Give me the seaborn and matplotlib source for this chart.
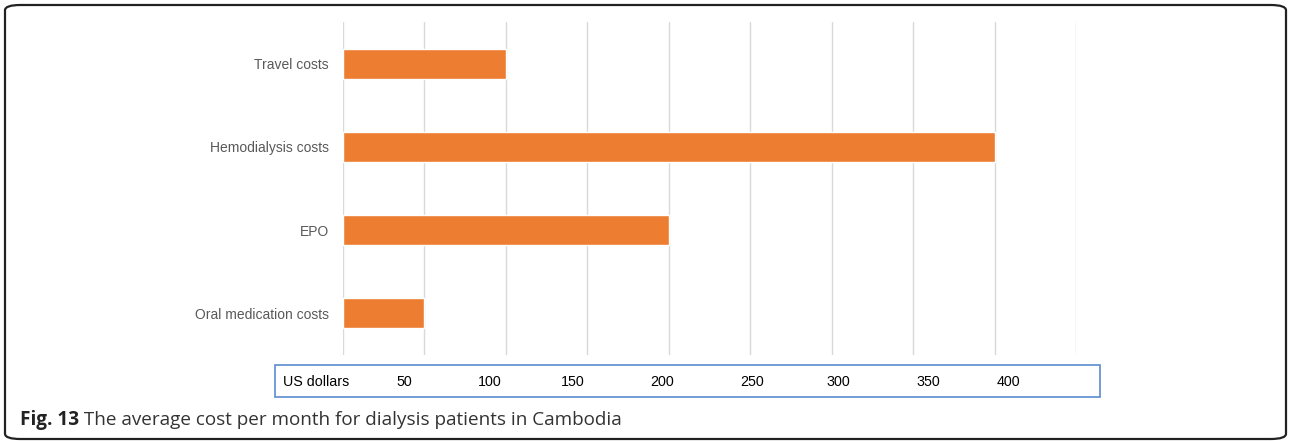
import matplotlib
matplotlib.use("Agg")
import matplotlib.pyplot as plt
import seaborn as sns
import pandas as pd
from matplotlib.patches import Rectangle, FancyBboxPatch

# Data
categories = ["Travel costs", "Hemodialysis costs", "EPO", "Oral medication costs"]
costs = [100, 400, 200, 50]
table_labels = ["50", "100", "150", "200", "250", "300", "350", "400"]
caption_bold = "Fig. 13"
caption_text = " The average cost per month for dialysis patients in Cambodia"

df = pd.DataFrame({"category": categories, "cost": costs})

W, H = 1290, 441
sns.set_theme(style="white")
plt.rcParams['font.family'] = ['Liberation Sans', 'DejaVu Sans']

fig = plt.figure(figsize=(W / 100, H / 100), dpi=100)
ax = fig.add_axes([342.7 / W, 1 - 355 / H, (1076.5 - 342.7) / W, (355 - 22) / H])

sns.barplot(data=df, x="cost", y="category", orient="h", color="#ED7D31",
            width=0.36, saturation=1, ax=ax)
ax.set_xlim(0, 450)
ax.set_xticks(range(0, 451, 50))
ax.xaxis.grid(True, color="#D9D9D9", linewidth=1)
ax.set_axisbelow(True)
ax.set_xticklabels([])
ax.tick_params(axis="x", length=0)
ax.tick_params(axis="y", length=0, pad=10, labelsize=10, labelcolor="#595959")
ax.set_xlabel("")
ax.set_ylabel("")
for s in ax.spines.values():
    s.set_visible(False)


def fx(px):
    return px / W


def fy(py):
    return 1 - py / H


# table box under the chart
fig.patches.append(Rectangle((fx(275), fy(397)), fx(1100) - fx(275), fy(365) - fy(397),
                             transform=fig.transFigure, fill=False,
                             edgecolor="#5B8BD0", linewidth=1.2))
fig.text(fx(283), fy(382), "US dollars", ha="left", va="center", fontsize=10.3, color="black")
label_x = [404, 490, 573, 662, 752, 838, 928, 1008]
for xp, lab in zip(label_x, table_labels):
    fig.text(fx(xp), fy(382), lab, ha="center", va="center", fontsize=10.3, color="black")

# rounded frame
fig.patches.append(FancyBboxPatch((fx(5), fy(439)), fx(1286) - fx(5), fy(5) - fy(439),
                                  boxstyle="round,pad=0,rounding_size=0.012",
                                  transform=fig.transFigure, fill=False,
                                  edgecolor="#222222", linewidth=1.6))

# caption
t1 = fig.text(fx(20), fy(420), caption_bold, ha="left", va="center", fontsize=13.6,
              fontweight="bold", family=["Open Sans", "DejaVu Sans"], color="#222222")
fig.canvas.draw()
bb = t1.get_window_extent()
fig.text(bb.x1 / W, fy(420), caption_text, ha="left", va="center", fontsize=13.6,
         family=["Open Sans", "DejaVu Sans"], color="#333333")

fig.savefig("out.png", dpi=100)
